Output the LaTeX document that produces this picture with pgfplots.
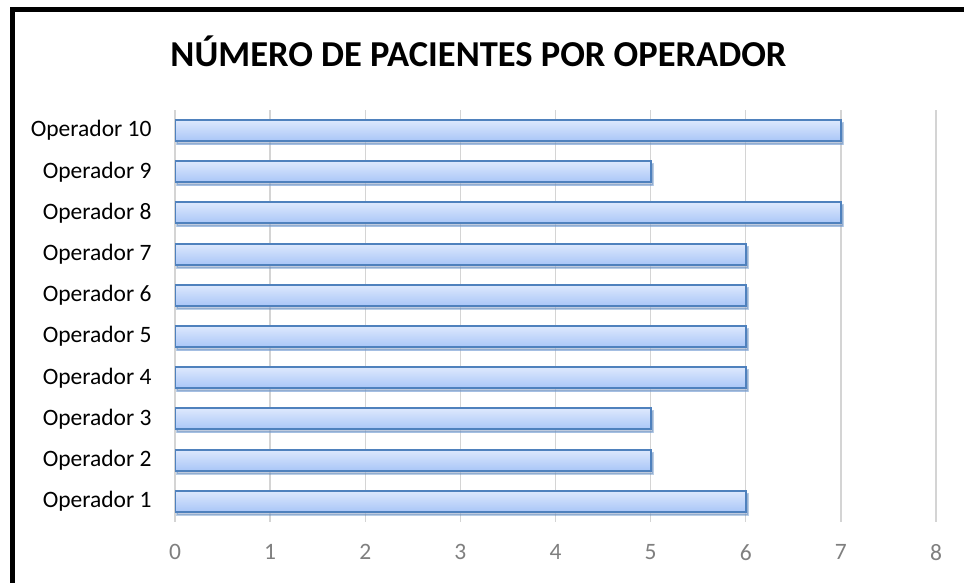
\documentclass[border=0pt]{standalone}
\usepackage{pgfplots}
\pgfplotsset{compat=1.18}
\usepackage{fontspec}
\setmainfont{Carlito}
\usetikzlibrary{shadows}
\definecolor{barborder}{HTML}{4F81BD}
\definecolor{bartop}{HTML}{DDE8FD}
\definecolor{barbot}{HTML}{A9C6F7}
\definecolor{gridgray}{HTML}{D4D4D4}
\definecolor{ticktext}{HTML}{7F7F7F}
\begin{document}
\begin{tikzpicture}[x=1bp,y=1bp]
\useasboundingbox (0,0) rectangle (964,583);
\draw[line width=5bp] (12,0) -- (12,573) -- (964,573);
\node[font=\fontsize{36.5bp}{40bp}\selectfont\bfseries, anchor=base] at (478.5,516) {NÚMERO DE PACIENTES POR OPERADOR};
\begin{axis}[
  at={(175bp,61bp)}, anchor=south west,
  scale only axis, width=761bp, height=412bp,
  xmin=0, xmax=8, ymin=0.5, ymax=10.5,
  xtick={0,...,8}, ytick={1,...,10},
  yticklabels={Operador 1,Operador 2,Operador 3,Operador 4,Operador 5,Operador 6,Operador 7,Operador 8,Operador 9,Operador 10},
  axis line style={draw=none},
  major tick length=0pt,
  xmajorgrids, grid style={gridgray, line width=1.4bp},
  ymajorgrids=false,
  /pgf/number format/assume math mode=true,
  xticklabel style={font=\fontsize{23.5bp}{26bp}\selectfont, text=ticktext, yshift=-19bp},
  yticklabel style={font=\fontsize{23.5bp}{26bp}\selectfont, xshift=-20bp},
  xbar, bar width=21bp, bar shift=0pt,
  mybar/.style={draw=barborder, line width=2bp, top color=bartop, bottom color=barbot,
    drop shadow={opacity=0.4, shadow xshift=2bp, shadow yshift=-3bp}},
]
\addplot[mybar] coordinates {(6,1)};
\addplot[mybar] coordinates {(5,2)};
\addplot[mybar] coordinates {(5,3)};
\addplot[mybar] coordinates {(6,4)};
\addplot[mybar] coordinates {(6,5)};
\addplot[mybar] coordinates {(6,6)};
\addplot[mybar] coordinates {(6,7)};
\addplot[mybar] coordinates {(7,8)};
\addplot[mybar] coordinates {(5,9)};
\addplot[mybar] coordinates {(7,10)};
\end{axis}
\end{tikzpicture}
\end{document}
